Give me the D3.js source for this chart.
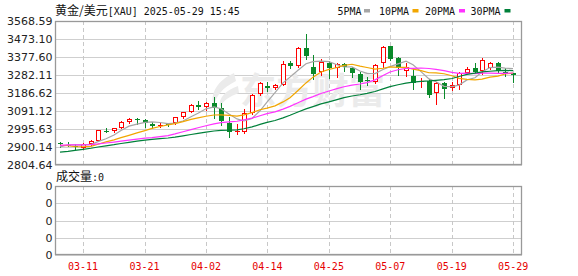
<!DOCTYPE html>
<html><head><meta charset="utf-8">
<script src="https://cdn.jsdelivr.net/npm/d3@7/dist/d3.min.js"></script>
<style>html,body{margin:0;padding:0;background:#fff;}svg{display:block;}</style>
</head><body>
<svg id="c" width="578" height="276"></svg>
<script>
const dates = ["03-06","03-07","03-10","03-11","03-12","03-13","03-14","03-17","03-18","03-19","03-20","03-21","03-24","03-25","03-26","03-27","03-28","03-31",
"04-01","04-02","04-03","04-04","04-07","04-08","04-09","04-10","04-11","04-14","04-15","04-16","04-17","04-21","04-22","04-23","04-24","04-25","04-28","04-29","04-30",
"05-01","05-02","05-05","05-06","05-07","05-08","05-09","05-12","05-13","05-14","05-15","05-16","05-19","05-20","05-21","05-22","05-23","05-26","05-27","05-28","05-29"];
const openV = [2920,2910,2905,2895,2918,2934,2987,2986,3002,3033,3047,3045,3022,3013,3021,3026,3057,3086,3122,3111,3132,3108,3029,2979,2982,3080,3180,3224,3215,3230,3347,3330,3424,3325,3296,3344,3320,3342,3318,3286,3258,3247,3344,3436,3371,3305,3278,3245,3250,3185,3238,3212,3229,3294,3317,3303,3318,3344,3300,3291];
const highV = [2928,2928,2914,2920,2938,2992,3002,3003,3038,3056,3052,3048,3031,3026,3029,3060,3088,3128,3145,3140,3167,3136,3057,3022,3100,3180,3245,3243,3235,3358,3357,3430,3500,3386,3368,3357,3345,3348,3326,3300,3273,3338,3437,3437,3379,3344,3312,3265,3260,3245,3243,3247,3298,3323,3344,3370,3350,3350,3318,3295];
const lowV = [2900,2905,2888,2890,2912,2930,2982,2980,3000,3030,3020,3004,2999,3005,3013,3020,3055,3084,3102,3096,3055,3018,2952,2970,2976,3074,3176,3195,3210,3228,3318,3325,3368,3260,3280,3265,3270,3305,3273,3206,3229,3240,3326,3360,3282,3278,3208,3220,3167,3127,3158,3203,3206,3291,3294,3287,3312,3294,3278,3246];
const closeV = [2914,2908,2898,2916,2932,2990,2984,2999,3034,3047,3045,3029,3010,3019,3018,3057,3086,3123,3113,3134,3109,3037,2982,2983,3080,3176,3241,3214,3231,3343,3328,3424,3382,3290,3352,3318,3340,3323,3291,3243,3255,3335,3432,3367,3318,3326,3238,3250,3176,3241,3206,3229,3291,3314,3296,3362,3344,3305,3287,3282];
const ma5 = [2900.4,2910.6,2911.6,2911.2,2913.6,2928.8,2944.0,2964.2,2987.8,3010.8,3021.8,3030.8,3033.0,3030.0,3024.2,3026.6,3038.0,3060.6,3079.4,3102.6,3113.0,3103.2,3075.0,3049.0,3038.2,3051.6,3092.4,3138.4,3188.0,3240.6,3271.0,3307.6,3341.6,3353.4,3355.2,3353.2,3336.4,3324.6,3324.8,3303.0,3290.4,3289.4,3311.2,3326.4,3341.4,3355.6,3336.2,3299.8,3261.6,3246.2,3222.2,3220.4,3228.6,3256.2,3267.2,3298.4,3321.4,3324.2,3318.8,3316.0];
const ma10 = [2909.5,2906.7,2901.4,2901.5,2903.2,2914.6,2927.3,2937.9,2949.5,2962.2,2975.3,2987.4,2998.6,3008.9,3017.5,3024.2,3034.4,3046.8,3054.7,3063.4,3069.8,3070.6,3067.8,3064.2,3070.4,3082.3,3097.8,3106.7,3118.5,3139.4,3161.3,3200.0,3240.0,3270.7,3297.9,3312.1,3322.0,3333.1,3339.1,3329.1,3321.8,3312.9,3317.9,3325.6,3322.2,3323.0,3312.8,3305.5,3294.0,3293.8,3288.9,3278.3,3264.2,3258.9,3256.7,3260.3,3270.9,3276.4,3287.5,3291.6];
const ma20 = [2909.0,2911.4,2910.9,2911.8,2913.2,2916.3,2921.4,2926.5,2931.4,2937.1,2942.4,2947.1,2950.0,2955.2,2960.4,2969.4,2980.9,2992.4,3002.1,3012.8,3022.6,3029.0,3033.2,3036.6,3044.0,3053.3,3066.1,3076.8,3086.6,3101.4,3115.6,3135.3,3153.9,3167.5,3184.2,3197.2,3209.9,3219.9,3228.8,3234.3,3241.6,3256.5,3279.0,3298.2,3310.1,3317.6,3317.4,3319.3,3316.6,3311.5,3305.4,3295.6,3291.1,3292.3,3289.5,3291.7,3291.9,3291.0,3290.8,3292.7];
const ma30 = [2872.8,2877.4,2882.7,2887.8,2893.5,2900.0,2906.2,2912.4,2918.8,2924.8,2931.1,2936.7,2940.1,2944.2,2948.0,2952.3,2959.1,2966.6,2972.5,2979.2,2984.9,2988.2,2989.3,2991.5,2997.0,3007.0,3019.8,3030.5,3040.9,3055.0,3068.8,3086.0,3102.1,3114.6,3128.6,3139.5,3151.4,3162.2,3170.8,3177.3,3184.3,3194.5,3208.6,3220.2,3230.2,3239.1,3244.2,3248.4,3250.5,3254.1,3257.3,3263.7,3274.0,3285.1,3292.3,3298.5,3301.9,3305.0,3306.9,3304.8];
const priceTicks = ["3568.59","3473.10","3377.60","3282.11","3186.62","3091.12","2995.63","2900.14","2804.64"];
const volTicks = ["0","0","0","0","0"];
const xTicks = ["03-11","03-21","04-02","04-14","04-25","05-07","05-19","05-29"];
const legendNames = ["5PMA","10PMA","20PMA","30PMA"];
const legendColors = ["#a6a6a6","#f2a600","#ff33ff","#00803a"];
const titleCn = "黄金/美元";
const titleRest = "[XAU] 2025-05-29 15:45";
const volTitle = "成交量:0";
const watermark = "东方财富";

const RED = "#ff0000", GREEN = "#0a8a2a";
const L = 55, R = 522, T = 21, B = 165, VT = 186, VB = 255;
const mono = "'DejaVu Sans Mono', 'Liberation Mono', monospace";
const cjk = "'Noto Sans CJK SC', sans-serif";

const svg = d3.select("#c");
svg.append("rect").attr("width", 578).attr("height", 276).attr("fill", "#fff");

const x = d3.scaleBand().domain(dates).range([56.2, 517]).padding(0);
const cx = d => Math.round(x(d) + x.bandwidth() / 2);
const y = d3.scaleLinear().domain([+priceTicks[priceTicks.length - 1], +priceTicks[0]]).range([B, T]);
const yv = d3.scaleLinear().domain([0, volTicks.length - 1]).range([VB, VT]);

// grid
const grid = svg.append("g").attr("shape-rendering", "crispEdges");
grid.selectAll("line.hm").data(priceTicks.map(Number)).join("line")
  .attr("x1", L).attr("x2", R)
  .attr("y1", d => Math.round(y(d)) + 0.5).attr("y2", d => Math.round(y(d)) + 0.5)
  .attr("stroke", "#cfcfcf");
grid.selectAll("line.hv").data(d3.range(volTicks.length)).join("line")
  .attr("x1", L).attr("x2", R)
  .attr("y1", d => Math.round(yv(d)) + 0.5).attr("y2", d => Math.round(yv(d)) + 0.5)
  .attr("stroke", "#cfcfcf");
[[T, B], [VT, VB]].forEach(([a, b]) => {
  grid.append("g").selectAll("line").data(xTicks).join("line")
    .attr("x1", d => cx(d) + 0.5).attr("x2", d => cx(d) + 0.5)
    .attr("y1", a).attr("y2", b)
    .attr("stroke", "#c8c8c8").attr("stroke-dasharray", "4,3");
});

// watermark
const wm = svg.append("g").attr("fill", "#ebebeb");
wm.append("path").attr("d", "M234,73 C218,80 209,94 214,106 C216,96 222,88 236,81 Z");
wm.append("path").attr("d", "M238,86 C226,90 218,98 220,107 C224,100 230,96 239,93 Z");
wm.append("text").attr("x", 240).attr("y", 104).attr("font-family", cjk)
  .attr("font-size", 36).attr("font-weight", "bold").attr("textLength", 145)
  .attr("lengthAdjust", "spacingAndGlyphs").text(watermark);

// frames
svg.append("rect").attr("x", L + 0.5).attr("y", T + 0.5).attr("width", R - L - 1).attr("height", B - T - 1)
  .attr("fill", "none").attr("stroke", "#999").attr("stroke-width", 1.3);
svg.append("rect").attr("x", L + 0.5).attr("y", VT + 0.5).attr("width", R - L - 1).attr("height", VB - VT - 1)
  .attr("fill", "none").attr("stroke", "#999").attr("stroke-width", 1.3);

// axes
const yAxis = d3.axisLeft(y).tickValues(priceTicks.map(Number)).tickFormat((d, i) => priceTicks[i]).tickSize(0).tickPadding(2.5);
svg.append("g").attr("transform", `translate(${L},0)`).call(yAxis)
  .call(g => g.select(".domain").remove())
  .call(g => g.selectAll("text").attr("font-family", "'DejaVu Sans', sans-serif").attr("font-size", 11).attr("fill", "#222"));
const vAxis = d3.axisLeft(yv).tickValues(d3.range(volTicks.length)).tickFormat((d, i) => volTicks[i]).tickSize(0).tickPadding(2.5);
svg.append("g").attr("transform", `translate(${L},0)`).call(vAxis)
  .call(g => g.select(".domain").remove())
  .call(g => g.selectAll("text").attr("font-family", "'DejaVu Sans', sans-serif").attr("font-size", 11).attr("fill", "#222"));
const xAxis = d3.axisBottom(x).tickValues(xTicks).tickSize(0).tickPadding(8);
svg.append("g").attr("transform", `translate(0,${VB})`).call(xAxis)
  .call(g => g.select(".domain").remove())
  .call(g => g.selectAll("text").attr("font-family", mono).attr("font-size", 10).attr("fill", "#e60000"));

// candles
const candles = dates.map((d, i) => ({ d, o: openV[i], h: highV[i], l: lowV[i], c: closeV[i] }));
const gc = svg.append("g").attr("shape-rendering", "crispEdges");
const ck = gc.selectAll("g").data(candles).join("g");
ck.append("line")
  .attr("x1", k => cx(k.d) + 0.5).attr("x2", k => cx(k.d) + 0.5)
  .attr("y1", k => Math.round(y(k.h))).attr("y2", k => Math.round(y(k.l)) + 1)
  .attr("stroke", k => k.c >= k.o ? RED : GREEN);
ck.each(function (k) {
  const g = d3.select(this);
  const up = k.c >= k.o;
  const col = up ? RED : GREEN;
  const xc = cx(k.d);
  const yt = Math.round(y(Math.max(k.o, k.c))), yb = Math.round(y(Math.min(k.o, k.c)));
  if (yb - yt < 2) {
    g.append("line").attr("x1", xc - 2).attr("x2", xc + 3).attr("y1", yt + 0.5).attr("y2", yt + 0.5).attr("stroke", col);
  } else if (up) {
    g.append("rect").attr("x", xc - 1.5).attr("y", yt + 0.5).attr("width", 4).attr("height", yb - yt - 1)
      .attr("fill", "#fff").attr("stroke", col);
  } else {
    g.append("rect").attr("x", xc - 2).attr("y", yt).attr("width", 5).attr("height", yb - yt).attr("fill", col);
  }
});

// moving averages
const line = d3.line().x((v, i) => cx(dates[i])).y(v => y(v));
[ma5, ma10, ma20, ma30].forEach((s, j) => {
  svg.append("path").datum(s).attr("d", line).attr("fill", "none")
    .attr("stroke", legendColors[j]).attr("stroke-width", 1.2);
});

// title
const t = svg.append("text").attr("x", 55).attr("y", 14.5).attr("fill", "#111");
t.append("tspan").attr("font-family", cjk).attr("font-size", 12).text(titleCn);
t.append("tspan").attr("font-family", mono).attr("font-size", 10).attr("textLength", 132)
  .attr("lengthAdjust", "spacingAndGlyphs").text(titleRest);

// legend
const legX = [337.5, 379, 425, 470.5];
const sqX = [364, 412.5, 459, 504.5];
legendNames.forEach((n, j) => {
  svg.append("text").attr("x", legX[j]).attr("y", 14.5).attr("font-family", mono).attr("font-size", 10)
    .attr("fill", "#111").attr("textLength", n.length * 6).attr("lengthAdjust", "spacingAndGlyphs").text(n);
  svg.append("rect").attr("x", sqX[j]).attr("y", 9).attr("width", 6).attr("height", 3.5).attr("fill", legendColors[j]);
});

// volume title
const vt = svg.append("text").attr("x", 56).attr("y", 181).attr("fill", "#111");
vt.append("tspan").attr("font-family", cjk).attr("font-size", 12).text(volTitle.slice(0, 3));
vt.append("tspan").attr("font-family", mono).attr("font-size", 10).text(volTitle.slice(3));
</script>
</body></html>
